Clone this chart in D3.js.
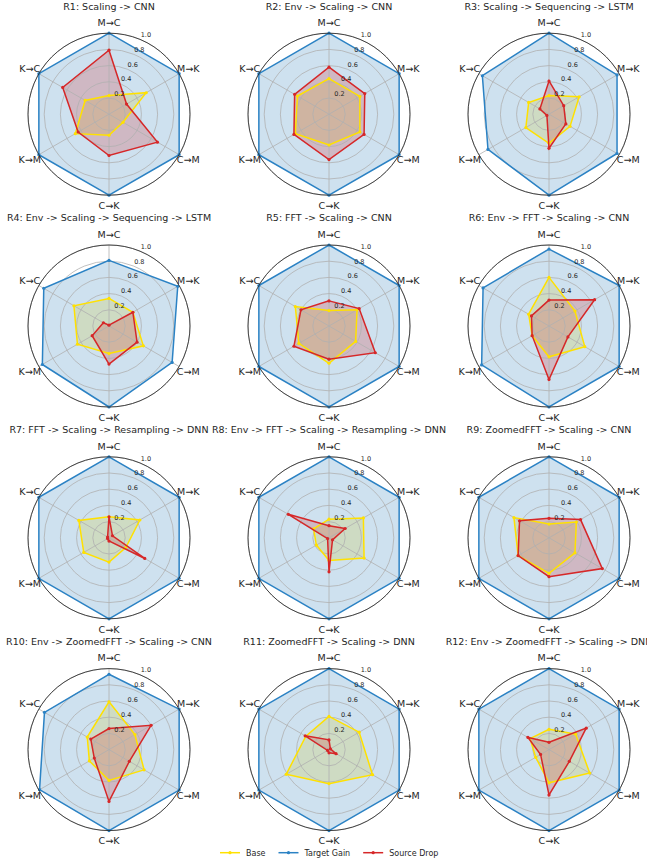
<!DOCTYPE html>
<meta charset="utf-8">
<script src="https://d3js.org/d3.v7.min.js"></script>
<style>
  body { margin: 0; background: #fff; }
  svg { font-family: "DejaVu Sans", sans-serif; display: block; }
</style>
<svg></svg>
<script>

    var width = 647, height = 863;

    // data
    var axesNames = ["M→C", "M→K", "C→M", "C→K", "K→M", "K→C"];
    var titles = [
        "R1: Scaling -> CNN",
        "R2: Env -> Scaling -> CNN",
        "R3: Scaling -> Sequencing -> LSTM",
        "R4: Env -> Scaling -> Sequencing -> LSTM",
        "R5: FFT -> Scaling -> CNN",
        "R6: Env -> FFT -> Scaling -> CNN",
        "R7: FFT -> Scaling -> Resampling -> DNN",
        "R8: Env -> FFT -> Scaling -> Resampling -> DNN",
        "R9: ZoomedFFT -> Scaling -> CNN",
        "R10: Env -> ZoomedFFT -> Scaling -> CNN",
        "R11: ZoomedFFT -> Scaling -> DNN",
        "R12: Env -> ZoomedFFT -> Scaling -> DNN"
    ];
    var base = [
        [0.23, 0.53, 0.20, 0.26, 0.48, 0.34],
        [0.44, 0.44, 0.44, 0.38, 0.48, 0.45],
        [0.23, 0.43, 0.30, 0.36, 0.33, 0.29],
        [0.34, 0.34, 0.49, 0.34, 0.45, 0.50],
        [0.19, 0.40, 0.38, 0.46, 0.43, 0.48],
        [0.60, 0.37, 0.51, 0.38, 0.24, 0.29],
        [0.26, 0.44, 0.24, 0.30, 0.36, 0.43],
        [0.23, 0.49, 0.50, 0.28, 0.18, 0.22],
        [0.17, 0.39, 0.37, 0.44, 0.44, 0.50],
        [0.59, 0.37, 0.50, 0.38, 0.28, 0.31],
        [0.41, 0.43, 0.62, 0.42, 0.61, 0.33],
        [0.25, 0.38, 0.58, 0.41, 0.19, 0.27]
    ];
    var targetGain = [
        [1.00, 1.00, 1.00, 1.00, 1.00, 1.00],
        [1.00, 1.00, 1.00, 1.00, 1.00, 1.00],
        [1.00, 0.97, 0.97, 1.00, 0.87, 0.95],
        [0.81, 0.98, 0.90, 1.00, 0.95, 0.93],
        [1.00, 1.00, 1.00, 1.00, 1.00, 1.00],
        [0.95, 1.00, 1.00, 1.00, 0.96, 0.94],
        [1.00, 1.00, 1.00, 1.00, 1.00, 1.00],
        [1.00, 1.00, 1.00, 1.00, 1.00, 1.00],
        [1.00, 1.00, 1.00, 1.00, 1.00, 1.00],
        [0.93, 1.00, 1.00, 1.00, 0.99, 0.92],
        [1.00, 1.00, 1.00, 1.00, 1.00, 1.00],
        [1.00, 1.00, 1.00, 1.00, 1.00, 1.00]
    ];
    var sourceDrop = [
        [0.79, 0.25, 0.69, 0.51, 0.44, 0.66],
        [0.58, 0.51, 0.50, 0.56, 0.50, 0.49],
        [0.41, 0.21, 0.24, 0.42, 0.03, 0.13],
        [0.01, 0.34, 0.40, 0.47, 0.24, 0.08],
        [0.31, 0.43, 0.66, 0.41, 0.50, 0.40],
        [0.32, 0.65, 0.27, 0.66, 0.24, 0.25],
        [0.26, 0.05, 0.51, 0.04, 0.02, 0.02],
        [0.15, 0.23, 0.05, 0.42, 0.02, 0.58],
        [0.24, 0.45, 0.76, 0.48, 0.44, 0.42],
        [0.26, 0.60, 0.29, 0.64, 0.21, 0.26],
        [0.12, 0.02, 0.10, 0.04, 0.02, 0.34],
        [0.09, 0.53, 0.29, 0.56, 0.12, 0.30]
    ];
    var rTicks = [0.2, 0.4, 0.6, 0.8, 1.0];
    var seriesNames = ["Base", "Target Gain", "Source Drop"];

    var colors = ["#ffe100", "#1f77b4", "#d62728"];
    var lineColors = ["#ffe100", "#2b82c4", "#d62728"];
    var R = 81;
    var cols = 3;

    var svg = d3.select("svg")
        .attr("width", width)
        .attr("height", height)
        .attr("viewBox", [0, 0, width, height]);

    var r = d3.scaleLinear().domain([0, 1]).range([0, R]);
    var angle = d3.scaleLinear().domain([0, axesNames.length]).range([0, 2 * Math.PI]);
    var cx = d3.scaleLinear().domain([0, 1]).range([109, 329]);
    var cy = d3.scaleLinear().domain([0, 1]).range([114.2, 326]);

    var line = d3.lineRadial()
        .angle((d, i) => angle(i))
        .radius(d => r(d))
        .curve(d3.curveLinearClosed);

    titles.forEach(function(title, k) {
        var g = svg.append("g")
            .attr("transform", `translate(${cx(k % cols)},${cy(Math.floor(k / cols))})`);

        g.append("text")
            .attr("y", -108)
            .attr("dy", "0.35em")
            .attr("text-anchor", "middle")
            .attr("font-size", 9.5)
            .attr("fill", "#262626")
            .text(title);

        // background
        g.append("circle").attr("r", R).attr("fill", "#fff");

        var series = [base[k], targetGain[k], sourceDrop[k]];

        series.forEach(function(vals, s) {
            g.append("path")
                .attr("d", line(vals))
                .attr("fill", colors[s])
                .attr("fill-opacity", 0.22)
                .attr("stroke", "none");
        });

        // grid
        g.selectAll(".ring")
            .data(rTicks)
            .join("circle")
            .attr("r", d => r(d))
            .attr("fill", "none")
            .attr("stroke", "#b0b0b0")
            .attr("stroke-width", 0.8);

        g.selectAll(".spoke")
            .data(axesNames)
            .join("line")
            .attr("x2", (d, i) => d3.pointRadial(angle(i), R)[0])
            .attr("y2", (d, i) => d3.pointRadial(angle(i), R)[1])
            .attr("stroke", "#b0b0b0")
            .attr("stroke-width", 0.8);

        series.forEach(function(vals, s) {
            g.append("path")
                .attr("d", line(vals))
                .attr("fill", "none")
                .attr("stroke", lineColors[s])
                .attr("stroke-width", 1.5);
            g.selectAll(".m" + s)
                .data(vals)
                .join("circle")
                .attr("cx", (d, i) => d3.pointRadial(angle(i), r(d))[0])
                .attr("cy", (d, i) => d3.pointRadial(angle(i), r(d))[1])
                .attr("r", 1.6)
                .attr("fill", lineColors[s]);
        });

        // outer spine
        g.append("circle")
            .attr("r", R)
            .attr("fill", "none")
            .attr("stroke", "#222")
            .attr("stroke-width", 0.8);

        g.selectAll(".tl")
            .data(rTicks)
            .join("text")
            .attr("x", d => d3.pointRadial(24 * Math.PI / 180, r(d) + 6)[0] + 1.5)
            .attr("y", d => d3.pointRadial(24 * Math.PI / 180, r(d) + 6)[1])
            .attr("dy", "0.35em")
            .attr("text-anchor", "middle")
            .attr("font-size", 6.5)
            .attr("fill", "#262626")
            .text(d => d.toFixed(1));

        g.selectAll(".al")
            .data(axesNames)
            .join("text")
            .attr("x", (d, i) => d3.pointRadial(angle(i), R + 10.5)[0])
            .attr("y", (d, i) => d3.pointRadial(angle(i), R + 10.5)[1])
            .attr("dy", "0.35em")
            .attr("text-anchor", "middle")
            .attr("font-size", 9.5)
            .attr("fill", "#262626")
            .text(d => d);
    });

    // legend
    var legend = svg.append("g").attr("transform", "translate(220,852.7)");
    var xPos = 0;
    seriesNames.forEach(function(name, s) {
        var item = legend.append("g").attr("transform", `translate(${xPos},0)`);
        item.append("line").attr("x2", 20).attr("stroke", lineColors[s]).attr("stroke-width", 1.5);
        item.append("circle").attr("cx", 10).attr("r", 1.6).attr("fill", lineColors[s]);
        var t = item.append("text")
            .attr("x", 26)
            .attr("dy", "0.35em")
            .attr("font-size", 8)
            .attr("fill", "#262626")
            .text(name);
        xPos += 26 + t.node().getComputedTextLength() + 13;
    });

</script>
